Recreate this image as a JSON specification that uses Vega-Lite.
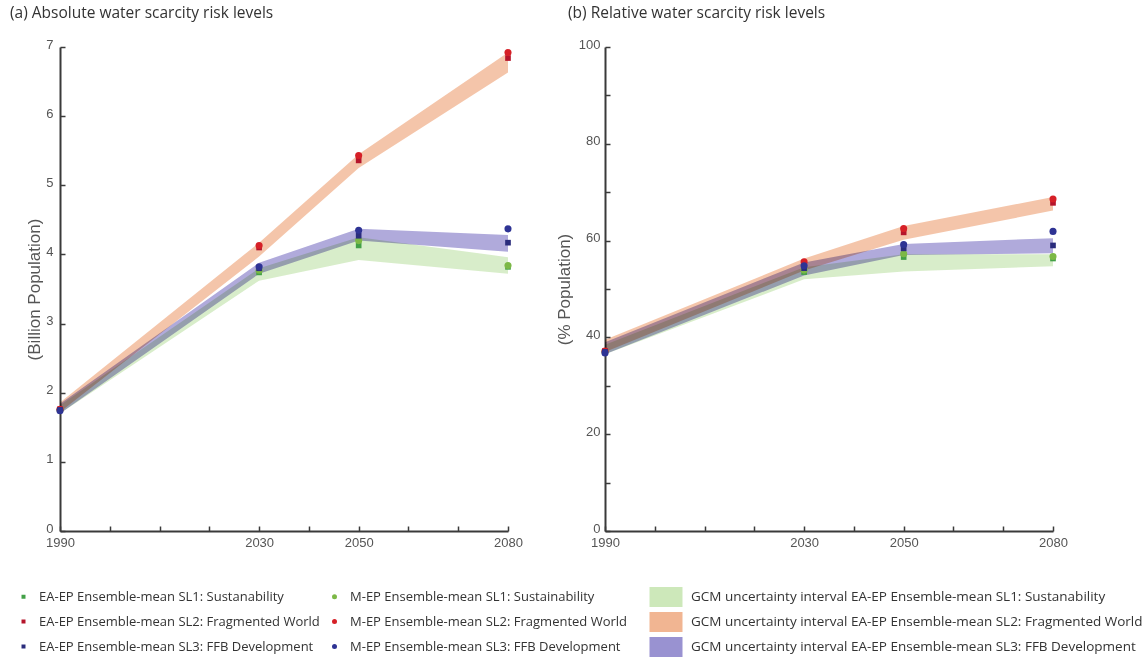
{
  "$schema": "https://vega.github.io/schema/vega-lite/v6.json",
  "autosize": {"type": "none"},
  "padding": {"left": 60, "top": 47, "right": 1083, "bottom": 611},
  "background": "white",
  "bounds": "flush",
  "spacing": 97,
  "resolve": {"scale": {"color": "independent", "shape": "independent", "fill": "independent", "x": "independent", "y": "independent"}},
  "config": {
    "view": {"stroke": null},
    "font": "Liberation Sans",
    "axis": {
      "domainColor": "#3a3a3a", "domainWidth": 2, "tickColor": "#3a3a3a", "tickWidth": 1.5, "tickSize": -5,
      "labelColor": "#555", "labelFontSize": 13, "labelFont": "Liberation Sans", "grid": false,
      "titleFont": "Liberation Sans", "titleFontWeight": "normal", "titleColor": "#555", "titleFontSize": 17,
      "labelFlush": false, "labelOverlap": false
    },
    "title": {"font": "Open Sans", "fontSize": 15.5, "fontWeight": "normal", "color": "#333", "anchor": "start", "frame": "group"},
    "legend": {"labelFont": "Open Sans", "labelColor": "#333", "labelLimit": 700}
  },
  "datasets": {
    "points": [
      {"panel": "a", "year": 1990, "series": "EA-EP Ensemble-mean SL1: Sustanability", "value": 1.75},
      {"panel": "a", "year": 1990, "series": "M-EP Ensemble-mean SL1: Sustainability", "value": 1.75},
      {"panel": "a", "year": 1990, "series": "EA-EP Ensemble-mean SL2: Fragmented World", "value": 1.76},
      {"panel": "a", "year": 1990, "series": "M-EP Ensemble-mean SL2: Fragmented World", "value": 1.76},
      {"panel": "a", "year": 1990, "series": "EA-EP Ensemble-mean SL3: FFB Development", "value": 1.75},
      {"panel": "a", "year": 1990, "series": "M-EP Ensemble-mean SL3: FFB Development", "value": 1.74},
      {"panel": "a", "year": 2030, "series": "EA-EP Ensemble-mean SL1: Sustanability", "value": 3.74},
      {"panel": "a", "year": 2030, "series": "M-EP Ensemble-mean SL1: Sustainability", "value": 3.77},
      {"panel": "a", "year": 2030, "series": "EA-EP Ensemble-mean SL2: Fragmented World", "value": 4.1},
      {"panel": "a", "year": 2030, "series": "M-EP Ensemble-mean SL2: Fragmented World", "value": 4.13},
      {"panel": "a", "year": 2030, "series": "EA-EP Ensemble-mean SL3: FFB Development", "value": 3.8},
      {"panel": "a", "year": 2030, "series": "M-EP Ensemble-mean SL3: FFB Development", "value": 3.82},
      {"panel": "a", "year": 2050, "series": "EA-EP Ensemble-mean SL1: Sustanability", "value": 4.13},
      {"panel": "a", "year": 2050, "series": "M-EP Ensemble-mean SL1: Sustainability", "value": 4.2},
      {"panel": "a", "year": 2050, "series": "EA-EP Ensemble-mean SL2: Fragmented World", "value": 5.36},
      {"panel": "a", "year": 2050, "series": "M-EP Ensemble-mean SL2: Fragmented World", "value": 5.43},
      {"panel": "a", "year": 2050, "series": "EA-EP Ensemble-mean SL3: FFB Development", "value": 4.27},
      {"panel": "a", "year": 2050, "series": "M-EP Ensemble-mean SL3: FFB Development", "value": 4.35},
      {"panel": "a", "year": 2080, "series": "EA-EP Ensemble-mean SL1: Sustanability", "value": 3.82},
      {"panel": "a", "year": 2080, "series": "M-EP Ensemble-mean SL1: Sustainability", "value": 3.84},
      {"panel": "a", "year": 2080, "series": "EA-EP Ensemble-mean SL2: Fragmented World", "value": 6.84},
      {"panel": "a", "year": 2080, "series": "M-EP Ensemble-mean SL2: Fragmented World", "value": 6.92},
      {"panel": "a", "year": 2080, "series": "EA-EP Ensemble-mean SL3: FFB Development", "value": 4.17},
      {"panel": "a", "year": 2080, "series": "M-EP Ensemble-mean SL3: FFB Development", "value": 4.37},
      {"panel": "b", "year": 1990, "series": "EA-EP Ensemble-mean SL1: Sustanability", "value": 37.0},
      {"panel": "b", "year": 1990, "series": "M-EP Ensemble-mean SL1: Sustainability", "value": 37.0},
      {"panel": "b", "year": 1990, "series": "EA-EP Ensemble-mean SL2: Fragmented World", "value": 37.2},
      {"panel": "b", "year": 1990, "series": "M-EP Ensemble-mean SL2: Fragmented World", "value": 37.2},
      {"panel": "b", "year": 1990, "series": "EA-EP Ensemble-mean SL3: FFB Development", "value": 37.0},
      {"panel": "b", "year": 1990, "series": "M-EP Ensemble-mean SL3: FFB Development", "value": 36.8},
      {"panel": "b", "year": 2030, "series": "EA-EP Ensemble-mean SL1: Sustanability", "value": 53.5},
      {"panel": "b", "year": 2030, "series": "M-EP Ensemble-mean SL1: Sustainability", "value": 53.9},
      {"panel": "b", "year": 2030, "series": "EA-EP Ensemble-mean SL2: Fragmented World", "value": 55.2},
      {"panel": "b", "year": 2030, "series": "M-EP Ensemble-mean SL2: Fragmented World", "value": 55.6},
      {"panel": "b", "year": 2030, "series": "EA-EP Ensemble-mean SL3: FFB Development", "value": 54.3},
      {"panel": "b", "year": 2030, "series": "M-EP Ensemble-mean SL3: FFB Development", "value": 54.8},
      {"panel": "b", "year": 2050, "series": "EA-EP Ensemble-mean SL1: Sustanability", "value": 56.6},
      {"panel": "b", "year": 2050, "series": "M-EP Ensemble-mean SL1: Sustainability", "value": 57.3},
      {"panel": "b", "year": 2050, "series": "EA-EP Ensemble-mean SL2: Fragmented World", "value": 61.7},
      {"panel": "b", "year": 2050, "series": "M-EP Ensemble-mean SL2: Fragmented World", "value": 62.5},
      {"panel": "b", "year": 2050, "series": "EA-EP Ensemble-mean SL3: FFB Development", "value": 58.4},
      {"panel": "b", "year": 2050, "series": "M-EP Ensemble-mean SL3: FFB Development", "value": 59.2},
      {"panel": "b", "year": 2080, "series": "EA-EP Ensemble-mean SL1: Sustanability", "value": 56.3},
      {"panel": "b", "year": 2080, "series": "M-EP Ensemble-mean SL1: Sustainability", "value": 56.7},
      {"panel": "b", "year": 2080, "series": "EA-EP Ensemble-mean SL2: Fragmented World", "value": 67.8},
      {"panel": "b", "year": 2080, "series": "M-EP Ensemble-mean SL2: Fragmented World", "value": 68.6},
      {"panel": "b", "year": 2080, "series": "EA-EP Ensemble-mean SL3: FFB Development", "value": 59.0},
      {"panel": "b", "year": 2080, "series": "M-EP Ensemble-mean SL3: FFB Development", "value": 61.9}
    ],
    "bands": [
      {"panel": "a", "year": 1990, "band": "GCM uncertainty interval EA-EP Ensemble-mean SL1: Sustanability", "lo": 1.7, "hi": 1.82},
      {"panel": "a", "year": 2030, "band": "GCM uncertainty interval EA-EP Ensemble-mean SL1: Sustanability", "lo": 3.62, "hi": 3.8},
      {"panel": "a", "year": 2050, "band": "GCM uncertainty interval EA-EP Ensemble-mean SL1: Sustanability", "lo": 3.92, "hi": 4.25},
      {"panel": "a", "year": 2080, "band": "GCM uncertainty interval EA-EP Ensemble-mean SL1: Sustanability", "lo": 3.72, "hi": 3.96},
      {"panel": "a", "year": 1990, "band": "GCM uncertainty interval EA-EP Ensemble-mean SL3: FFB Development", "lo": 1.7, "hi": 1.84},
      {"panel": "a", "year": 2030, "band": "GCM uncertainty interval EA-EP Ensemble-mean SL3: FFB Development", "lo": 3.72, "hi": 3.88},
      {"panel": "a", "year": 2050, "band": "GCM uncertainty interval EA-EP Ensemble-mean SL3: FFB Development", "lo": 4.2, "hi": 4.37},
      {"panel": "a", "year": 2080, "band": "GCM uncertainty interval EA-EP Ensemble-mean SL3: FFB Development", "lo": 4.04, "hi": 4.28},
      {"panel": "a", "year": 1990, "band": "GCM uncertainty interval EA-EP Ensemble-mean SL2: Fragmented World", "lo": 1.72, "hi": 1.86},
      {"panel": "a", "year": 2030, "band": "GCM uncertainty interval EA-EP Ensemble-mean SL2: Fragmented World", "lo": 3.97, "hi": 4.17},
      {"panel": "a", "year": 2050, "band": "GCM uncertainty interval EA-EP Ensemble-mean SL2: Fragmented World", "lo": 5.25, "hi": 5.45},
      {"panel": "a", "year": 2080, "band": "GCM uncertainty interval EA-EP Ensemble-mean SL2: Fragmented World", "lo": 6.63, "hi": 6.92},
      {"panel": "b", "year": 1990, "band": "GCM uncertainty interval EA-EP Ensemble-mean SL1: Sustanability", "lo": 36.5, "hi": 38.5},
      {"panel": "b", "year": 2030, "band": "GCM uncertainty interval EA-EP Ensemble-mean SL1: Sustanability", "lo": 52.0, "hi": 54.5},
      {"panel": "b", "year": 2050, "band": "GCM uncertainty interval EA-EP Ensemble-mean SL1: Sustanability", "lo": 53.6, "hi": 57.2},
      {"panel": "b", "year": 2080, "band": "GCM uncertainty interval EA-EP Ensemble-mean SL1: Sustanability", "lo": 54.7, "hi": 57.2},
      {"panel": "b", "year": 1990, "band": "GCM uncertainty interval EA-EP Ensemble-mean SL3: FFB Development", "lo": 36.5, "hi": 39.0},
      {"panel": "b", "year": 2030, "band": "GCM uncertainty interval EA-EP Ensemble-mean SL3: FFB Development", "lo": 52.8, "hi": 55.5},
      {"panel": "b", "year": 2050, "band": "GCM uncertainty interval EA-EP Ensemble-mean SL3: FFB Development", "lo": 57.0, "hi": 59.3},
      {"panel": "b", "year": 2080, "band": "GCM uncertainty interval EA-EP Ensemble-mean SL3: FFB Development", "lo": 57.4, "hi": 60.5},
      {"panel": "b", "year": 1990, "band": "GCM uncertainty interval EA-EP Ensemble-mean SL2: Fragmented World", "lo": 37.0, "hi": 39.5},
      {"panel": "b", "year": 2030, "band": "GCM uncertainty interval EA-EP Ensemble-mean SL2: Fragmented World", "lo": 53.8, "hi": 56.3},
      {"panel": "b", "year": 2050, "band": "GCM uncertainty interval EA-EP Ensemble-mean SL2: Fragmented World", "lo": 60.2, "hi": 63.0},
      {"panel": "b", "year": 2080, "band": "GCM uncertainty interval EA-EP Ensemble-mean SL2: Fragmented World", "lo": 66.2, "hi": 69.0}
    ]
  },
  "hconcat": [
    {
      "width": 448,
      "height": 484,
      "title": {"text": "(a) Absolute water scarcity risk levels", "dx": -50, "offset": 17},
      "layer": [
        {
          "data": {"name": "bands"},
          "transform": [{"filter": "datum.panel == 'a'"}],
          "mark": {"type": "area", "opacity": 0.7, "blend": "multiply"},
          "encoding": {
            "x": {"field": "year", "type": "quantitative", "scale": {"domain": [1990, 2080], "nice": false},
              "axis": {"title": null, "values": [1990, 2000, 2010, 2020, 2030, 2040, 2050, 2060, 2070, 2080], "format": "d",
                "labelExpr": "(datum.value == 1990 || datum.value == 2030 || datum.value == 2050 || datum.value == 2080) ? datum.label : ''", "labelPadding": 10}},
            "y": {"field": "lo", "type": "quantitative", "scale": {"domain": [0, 7], "nice": false},
              "axis": {"title": "(Billion Population)", "values": [0, 1, 2, 3, 4, 5, 6, 7], "format": "d", "labelPadding": 12, "labelOffset": -3, "titlePadding": 2}},
            "y2": {"field": "hi"},
            "fill": {"field": "band", "type": "nominal",
              "scale": {"domain": ["GCM uncertainty interval EA-EP Ensemble-mean SL1: Sustanability", "GCM uncertainty interval EA-EP Ensemble-mean SL2: Fragmented World", "GCM uncertainty interval EA-EP Ensemble-mean SL3: FFB Development"],
                "range": ["#c8e6b3", "#f0ad86", "#8e86cc"]},
              "legend": {"orient": "none", "legendX": 596, "legendY": 540, "title": null, "direction": "vertical",
                "symbolType": "M-1.65,-1H1.65V1H-1.65Z", "symbolSize": 400, "symbolOpacity": 0.9, "symbolStrokeWidth": 0,
                "labelOffset": 15, "rowPadding": 5, "labelFontSize": 13.5}}
          }
        },
        {
          "data": {"name": "points"},
          "transform": [{"filter": "datum.panel == 'a'"}],
          "mark": {"type": "point", "filled": true, "opacity": 1, "size": 50},
          "encoding": {
            "x": {"field": "year", "type": "quantitative"},
            "y": {"field": "value", "type": "quantitative"},
            "color": {"field": "series", "type": "nominal",
              "scale": {"domain": ["EA-EP Ensemble-mean SL1: Sustanability", "EA-EP Ensemble-mean SL2: Fragmented World", "EA-EP Ensemble-mean SL3: FFB Development", "M-EP Ensemble-mean SL1: Sustainability", "M-EP Ensemble-mean SL2: Fragmented World", "M-EP Ensemble-mean SL3: FFB Development"],
                "range": ["#43a047", "#b5152b", "#2a2c7c", "#7cb846", "#d62027", "#2e3394"]},
              "legend": {"orient": "none", "legendX": -43, "legendY": 543, "title": null, "columns": 2, "columnPadding": 8,
                "symbolSize": 25, "labelOffset": 9, "rowPadding": 11, "labelFontSize": 13}},
            "shape": {"field": "series", "type": "nominal",
              "scale": {"domain": ["EA-EP Ensemble-mean SL1: Sustanability", "EA-EP Ensemble-mean SL2: Fragmented World", "EA-EP Ensemble-mean SL3: FFB Development", "M-EP Ensemble-mean SL1: Sustainability", "M-EP Ensemble-mean SL2: Fragmented World", "M-EP Ensemble-mean SL3: FFB Development"],
                "range": ["M-0.8,-0.8H0.8V0.8H-0.8Z", "M-0.8,-0.8H0.8V0.8H-0.8Z", "M-0.8,-0.8H0.8V0.8H-0.8Z", "circle", "circle", "circle"]},
              "legend": {"orient": "none", "legendX": -43, "legendY": 543, "title": null, "columns": 2, "columnPadding": 8,
                "symbolSize": 25, "labelOffset": 9, "rowPadding": 11, "labelFontSize": 13}}
          }
        }
      ]
    },
    {
      "width": 448,
      "height": 484,
      "title": {"text": "(b) Relative water scarcity risk levels", "dx": -37, "offset": 17},
      "layer": [
        {
          "data": {"name": "bands"},
          "transform": [{"filter": "datum.panel == 'b'"}],
          "mark": {"type": "area", "opacity": 0.7, "blend": "multiply"},
          "encoding": {
            "x": {"field": "year", "type": "quantitative", "scale": {"domain": [1990, 2080], "nice": false},
              "axis": {"title": null, "values": [1990, 2000, 2010, 2020, 2030, 2040, 2050, 2060, 2070, 2080], "format": "d",
                "labelExpr": "(datum.value == 1990 || datum.value == 2030 || datum.value == 2050 || datum.value == 2080) ? datum.label : ''", "labelPadding": 10}},
            "y": {"field": "lo", "type": "quantitative", "scale": {"domain": [0, 100], "nice": false},
              "axis": {"title": "(% Population)", "values": [0, 10, 20, 30, 40, 50, 60, 70, 80, 90, 100], "format": "d",
                "labelExpr": "datum.value % 20 == 0 ? datum.label : ''", "labelPadding": 10, "labelOffset": -3, "titlePadding": 5}},
            "y2": {"field": "hi"},
            "fill": {"field": "band", "type": "nominal",
              "scale": {"domain": ["GCM uncertainty interval EA-EP Ensemble-mean SL1: Sustanability", "GCM uncertainty interval EA-EP Ensemble-mean SL2: Fragmented World", "GCM uncertainty interval EA-EP Ensemble-mean SL3: FFB Development"],
                "range": ["#c8e6b3", "#f0ad86", "#8e86cc"]},
              "legend": null}
          }
        },
        {
          "data": {"name": "points"},
          "transform": [{"filter": "datum.panel == 'b'"}],
          "mark": {"type": "point", "filled": true, "opacity": 1, "size": 50},
          "encoding": {
            "x": {"field": "year", "type": "quantitative"},
            "y": {"field": "value", "type": "quantitative"},
            "color": {"field": "series", "type": "nominal",
              "scale": {"domain": ["EA-EP Ensemble-mean SL1: Sustanability", "EA-EP Ensemble-mean SL2: Fragmented World", "EA-EP Ensemble-mean SL3: FFB Development", "M-EP Ensemble-mean SL1: Sustainability", "M-EP Ensemble-mean SL2: Fragmented World", "M-EP Ensemble-mean SL3: FFB Development"],
                "range": ["#43a047", "#b5152b", "#2a2c7c", "#7cb846", "#d62027", "#2e3394"]},
              "legend": null},
            "shape": {"field": "series", "type": "nominal",
              "scale": {"domain": ["EA-EP Ensemble-mean SL1: Sustanability", "EA-EP Ensemble-mean SL2: Fragmented World", "EA-EP Ensemble-mean SL3: FFB Development", "M-EP Ensemble-mean SL1: Sustainability", "M-EP Ensemble-mean SL2: Fragmented World", "M-EP Ensemble-mean SL3: FFB Development"],
                "range": ["M-0.8,-0.8H0.8V0.8H-0.8Z", "M-0.8,-0.8H0.8V0.8H-0.8Z", "M-0.8,-0.8H0.8V0.8H-0.8Z", "circle", "circle", "circle"]},
              "legend": null}
          }
        }
      ]
    }
  ]
}
